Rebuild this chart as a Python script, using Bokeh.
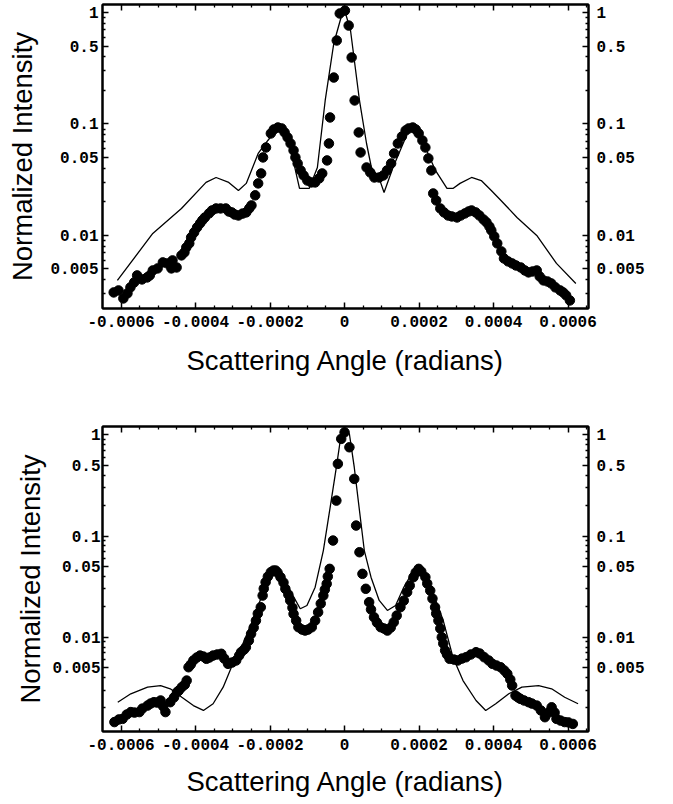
from bokeh.plotting import figure
from bokeh.models import Range1d, FixedTicker, LogAxis, LinearAxis, CustomJSTickFormatter
from bokeh.layouts import column
from bokeh.embed import file_html
from bokeh.resources import INLINE

# ---------------- data ----------------
top_dot_x = [-0.000620, -0.000594, -0.000575, -0.000557, -0.000530, -0.000515, -0.000488, -0.000462,
             -0.000451, -0.000438, -0.000425, -0.000412, -0.000396, -0.000382, -0.000364, -0.000345,
             -0.000319, -0.000303, -0.000285, -0.000264, -0.000250, -0.000240, -0.000232, -0.000224,
             -0.000219, -0.000211, -0.000198, -0.000179, -0.000161, -0.000145, -0.000132, -0.000118,
             -0.000100, -0.000079, -0.000060, -0.000047, -0.000042, -0.000039, -0.000029, -0.000021,
             -0.000013, 0.000001, 0.000011, 0.000019, 0.000027, 0.000038, 0.000043, 0.000059,
             0.000080, 0.000104, 0.000125, 0.000143, 0.000164, 0.000183, 0.000199, 0.000217,
             0.000233, 0.000238, 0.000257, 0.000278, 0.000302, 0.000323, 0.000341, 0.000362,
             0.000381, 0.000394, 0.000410, 0.000428, 0.000450, 0.000473, 0.000494, 0.000516,
             0.000534, 0.000555, 0.000579, 0.000595, 0.000605,
             -0.000607, -0.000583, -0.000565, -0.000544, -0.000523, -0.000502, -0.000476, -0.000465,
             -0.000430, -0.000417, -0.000404, -0.000388, -0.000375, -0.000356, -0.000333, -0.000311,
             -0.000295, -0.000274, -0.000256,
             0.000267, 0.000288, 0.000312, 0.000333, 0.000352, 0.000373, 0.000389, 0.000402,
             0.000421, 0.000439, 0.000460, 0.000484, 0.000505, 0.000524, 0.000545, 0.000566, 0.000587,
             -0.000190, -0.000169, -0.000153, -0.000137, -0.000126, -0.000110, -0.000089, -0.000068,
             0.000154, 0.000172, 0.000191, 0.000209, 0.000225, 0.000093, 0.000114, 0.000133,
             0.000069, 0.000246]
top_dot_y = [0.00308, 0.00272, 0.00342, 0.00438, 0.00420, 0.00485, 0.00573, 0.00597,
             0.00516, 0.00662, 0.00780, 0.00960, 0.0118, 0.01365, 0.01575, 0.01746,
             0.01746, 0.0161, 0.0151, 0.0161, 0.0186, 0.0229, 0.0293, 0.0360,
             0.0501, 0.0615, 0.0822, 0.0930, 0.0839, 0.0668, 0.0501, 0.0383,
             0.0311, 0.0299, 0.0360, 0.0471, 0.0668, 0.1144, 0.261, 0.561,
             0.98, 1.04, 0.764, 0.395, 0.1625, 0.0839, 0.0555, 0.0407,
             0.0331, 0.0345, 0.0442, 0.0668, 0.0874, 0.0930, 0.0822, 0.0615,
             0.0383, 0.0238, 0.01746, 0.0151, 0.0145, 0.01575, 0.01675, 0.0151,
             0.0131, 0.0111, 0.00848, 0.00622, 0.00561, 0.00516, 0.00466, 0.00485,
             0.00395, 0.00371, 0.00321, 0.00290, 0.00261,
             0.00321, 0.00302, 0.00379, 0.00403, 0.00438, 0.00506, 0.00561, 0.00506,
             0.00704, 0.00848, 0.01064, 0.01282, 0.01450, 0.01675, 0.01746, 0.0164,
             0.0154, 0.0157, 0.01746,
             0.0161, 0.0148, 0.0151, 0.0164, 0.0161, 0.0139, 0.0120, 0.0098,
             0.00719, 0.00585, 0.00538, 0.00485, 0.00475, 0.00428, 0.00386, 0.00342, 0.00308,
             0.0893, 0.0912, 0.0757, 0.0579, 0.0442, 0.0345, 0.0299, 0.0325,
             0.0772, 0.0912, 0.0893, 0.0711, 0.0491, 0.0331, 0.0383, 0.0544,
             0.0367, 0.0206]

top_fit_x = [-0.000610, -0.000515, -0.000438, -0.000372, -0.000345, -0.000311, -0.000285, -0.000264,
             -0.000232, -0.000206, -0.000179, -0.000150, -0.000121, -0.000095, -0.000073, -0.000052,
             -0.000029, -0.000002, 0.000016, 0.000040, 0.000059, 0.000072, 0.000093, 0.000106,
             0.000130, 0.000172, 0.000185, 0.000217, 0.000244, 0.000275, 0.000291, 0.000310,
             0.000341, 0.000367, 0.000394, 0.000420, 0.000463, 0.000516, 0.000569, 0.000621]
top_fit_y = [0.00395, 0.01042, 0.01746, 0.0299, 0.0331, 0.0299, 0.0253, 0.0293,
             0.0544, 0.0711, 0.0930, 0.0711, 0.0264, 0.0264, 0.0407, 0.1625,
             0.527, 1.11, 0.690, 0.1625, 0.0668, 0.0407, 0.0325, 0.0243,
             0.0407, 0.0874, 0.0912, 0.0615, 0.0383, 0.0264, 0.0264, 0.0293,
             0.0331, 0.0311, 0.0253, 0.0206, 0.0145, 0.0100, 0.00561, 0.00371]

bot_dot_x = [-0.000618, -0.000596, -0.000574, -0.000551, -0.000529, -0.000512, -0.000494, -0.000481,
             -0.000468, -0.000450, -0.000437, -0.000424, -0.000419, -0.000406, -0.000388, -0.000371,
             -0.000353, -0.000331, -0.000313, -0.000291, -0.000278, -0.000265, -0.000251, -0.000238,
             -0.000225, -0.000220, -0.000212, -0.000198, -0.000185, -0.000172, -0.000159, -0.000146,
             -0.000137, -0.000124, -0.000106, -0.000088, -0.000071, -0.000057, -0.000048, -0.000040,
             -0.000031, -0.000022, -0.000018, -0.000009, 0.000000, 0.000013, 0.000026, 0.000031,
             0.000040, 0.000048, 0.000057, 0.000066, 0.000079, 0.000097, 0.000115, 0.000132,
             0.000150, 0.000168, 0.000185, 0.000199, 0.000217, 0.000230, 0.000243, 0.000252,
             0.000261, 0.000270, 0.000282, 0.000304, 0.000326, 0.000353, 0.000375, 0.000397,
             0.000419, 0.000437, 0.000450, 0.000459, 0.000472, 0.000494, 0.000516, 0.000538,
             0.000556, 0.000569, 0.000591, 0.000613,
             -0.000606, -0.000585, -0.000564, -0.000543, -0.000521, -0.000503, -0.000487, -0.000458,
             -0.000445, -0.000429, -0.000413, -0.000397, -0.000379, -0.000363, -0.000342, -0.000323,
             -0.000302, -0.000283, -0.000270, -0.000257, -0.000244, -0.000233, -0.000217, -0.000206,
             -0.000191, -0.000180, -0.000164, -0.000151, -0.000140, -0.000130, -0.000114, -0.000098,
             -0.000079, -0.000064, -0.000053, -0.000045,
             0.000071, 0.000087, 0.000106, 0.000124, 0.000140, 0.000159, 0.000175, 0.000191,
             0.000206, 0.000222, 0.000236, 0.000246, 0.000257, 0.000265, 0.000275, 0.000294,
             0.000315, 0.000339, 0.000363, 0.000387, 0.000408, 0.000429, 0.000445, 0.000466,
             0.000482, 0.000503, 0.000527, 0.000548, 0.000564, 0.000580, 0.000601]
bot_dot_y = [0.00145, 0.00156, 0.00182, 0.00182, 0.00211, 0.00228, 0.00237, 0.00182,
             0.00228, 0.00286, 0.00321, 0.00373, 0.00505, 0.00589, 0.00659, 0.00612,
             0.00659, 0.00686, 0.00546, 0.00589, 0.00711, 0.00796, 0.0108, 0.0146,
             0.0198, 0.0258, 0.0350, 0.0439, 0.0456, 0.0392, 0.0301, 0.0231,
             0.0170, 0.01256, 0.01164, 0.01256, 0.01767, 0.0258, 0.0337, 0.0474,
             0.0903, 0.224, 0.517, 0.913, 1.06, 0.754, 0.367, 0.127,
             0.0692, 0.0423, 0.0301, 0.0222, 0.01578, 0.01256, 0.01164, 0.01406,
             0.0198, 0.0279, 0.0392, 0.0474, 0.0392, 0.0289, 0.0198, 0.0146,
             0.0100, 0.00739, 0.00612, 0.00589, 0.00634, 0.00711, 0.00634, 0.00546,
             0.00505, 0.00435, 0.00333, 0.00265, 0.00246, 0.00228, 0.00211, 0.00162,
             0.00203, 0.00156, 0.00145, 0.00139,
             0.00154, 0.00172, 0.00180, 0.00197, 0.00221, 0.00226, 0.00207, 0.00254,
             0.00297, 0.00340, 0.00537, 0.00630, 0.00644, 0.00630, 0.00675, 0.00615,
             0.00562, 0.00659, 0.00755, 0.00927, 0.01245, 0.0171, 0.0302, 0.0397,
             0.0456, 0.0436, 0.0347, 0.0264, 0.0196, 0.0146, 0.0119, 0.0119,
             0.0146, 0.0215, 0.0296, 0.0398,
             0.0188, 0.01397, 0.01219, 0.01247, 0.01637, 0.0230, 0.0324, 0.0436,
             0.0446, 0.0339, 0.0241, 0.01714, 0.01219, 0.00867, 0.00675, 0.00601,
             0.00615, 0.00675, 0.00690, 0.00589, 0.00525, 0.00469, 0.00382, 0.00254,
             0.00237, 0.00221, 0.00189, 0.00180, 0.00180, 0.00150, 0.00144]

bot_fit_x = [-0.000609, -0.000574, -0.000529, -0.000494, -0.000468, -0.000437, -0.000406, -0.000379,
             -0.000353, -0.000326, -0.000300, -0.000273, -0.000247, -0.000220, -0.000198, -0.000185,
             -0.000168, -0.000146, -0.000119, -0.000101, -0.000079, -0.000057, -0.000040, -0.000022,
             -0.000009, 0.000000, 0.000013, 0.000026, 0.000040, 0.000053, 0.000071, 0.000093,
             0.000115, 0.000137, 0.000159, 0.000185, 0.000203, 0.000221, 0.000238, 0.000265,
             0.000291, 0.000318, 0.000353, 0.000379, 0.000406, 0.000441, 0.000476, 0.000521,
             0.000556, 0.000591, 0.000627]
bot_fit_y = [0.00228, 0.00276, 0.00321, 0.00333, 0.00309, 0.00255, 0.00211, 0.00189,
             0.00220, 0.00321, 0.00546, 0.00861, 0.0146, 0.0269, 0.0423, 0.0474,
             0.0423, 0.0289, 0.0191, 0.0206, 0.0312, 0.0719, 0.179, 0.479,
             1.02, 1.15, 1.02, 0.479, 0.179, 0.0719, 0.0392, 0.0231,
             0.0184, 0.0206, 0.0312, 0.0456, 0.0492, 0.0392, 0.0269, 0.0146,
             0.00634, 0.00373, 0.00237, 0.00189, 0.00220, 0.00276, 0.00321, 0.00333,
             0.00309, 0.00255, 0.00220]

x_ticks = [-0.0006, -0.0004, -0.0002, 0.0, 0.0002, 0.0004, 0.0006]
x_tick_labels = ["-0.0006", "-0.0004", "-0.0002", "0", "0.0002", "0.0004", "0.0006"]
x_minor_ticks = [k * 0.00005 for k in range(-13, 14) if k % 4 != 0]

y_ticks = [0.005, 0.01, 0.05, 0.1, 0.5, 1.0]
y_tick_labels = ["0.005", "0.01", "0.05", "0.1", "0.5", "1"]
y_minor_ticks = [m * 10.0 ** e for e in (-3, -2, -1) for m in (2, 3, 4, 6, 7, 8, 9)]

x_label = "Scattering Angle (radians)"
y_label = "Normalized Intensity"

FMT_CODE = """
for (let i = 0; i < t.length; i++) {
  if (Math.abs(tick - t[i]) <= 1e-9 * Math.max(Math.abs(t[i]), 1e-12)) { return l[i]; }
}
return "";
"""


def fmt(ticks, labels):
    return CustomJSTickFormatter(args=dict(t=ticks, l=labels), code=FMT_CODE)


def style(ax, ticker, formatter, standoff, show=True):
    ax.ticker = ticker
    ax.formatter = formatter
    ax.axis_line_color = "black"
    ax.axis_line_width = 2
    ax.major_tick_in = 6
    ax.major_tick_out = 0
    ax.minor_tick_in = 3
    ax.minor_tick_out = 0
    ax.major_tick_line_color = "black"
    ax.minor_tick_line_color = "black"
    ax.major_tick_line_width = 1.5
    ax.minor_tick_line_width = 1.3
    ax.major_label_text_font = "Liberation Mono"
    ax.major_label_text_font_style = "bold"
    ax.major_label_text_color = "black"
    ax.major_label_standoff = standoff
    ax.major_label_text_font_size = "16px" if show else "0px"


def make(dx, dy, fx, fy, ymin, ymax, height, mb, ystand, xstand, ylab_stand, xlab_stand):
    p = figure(width=670, height=height, output_backend="svg", toolbar_location=None,
               y_axis_type="log",
               x_range=Range1d(-0.00065, 0.000655), y_range=Range1d(ymin, ymax),
               min_border_left=mb[0], min_border_right=mb[1],
               min_border_top=mb[2], min_border_bottom=mb[3])
    p.xgrid.visible = False
    p.ygrid.visible = False
    p.outline_line_color = "black"
    p.outline_line_width = 2
    p.background_fill_color = "white"
    p.border_fill_color = "white"

    xt = FixedTicker(ticks=x_ticks, minor_ticks=x_minor_ticks)
    yt = FixedTicker(ticks=y_ticks, minor_ticks=y_minor_ticks)

    bx = p.below[0]
    style(bx, xt, fmt(x_ticks, x_tick_labels), xstand)
    bx.axis_label = x_label
    ly = p.left[0]
    style(ly, yt, fmt(y_ticks, y_tick_labels), ystand)
    ly.axis_label = y_label
    for ax in (bx, ly):
        ax.axis_label_text_font = "Liberation Sans"
        ax.axis_label_text_font_size = "27.5px"
        ax.axis_label_text_font_style = "normal"
        ax.axis_label_text_color = "black"
    bx.axis_label_standoff = xlab_stand
    ly.axis_label_standoff = ylab_stand

    ry = LogAxis()
    style(ry, yt, fmt(y_ticks, y_tick_labels), 8)
    p.add_layout(ry, "right")
    tx = LinearAxis()
    style(tx, xt, fmt([], []), 0, show=False)
    p.add_layout(tx, "above")

    p.line(fx, fy, line_color="black", line_width=1.3)
    p.scatter(dx, dy, size=9.5, fill_color="black", line_color="black")
    return p


p1 = make(top_dot_x, top_dot_y, top_fit_x, top_fit_y, 0.00221, 1.18, 410,
          (102, 74, 4, 102), 4, 7, 9, 15)
p2 = make(bot_dot_x, bot_dot_y, bot_fit_x, bot_fit_y, 0.00117, 1.21, 393,
          (95, 82, 16, 72), 2, 7, 3, 13)

layout = column(p1, p2)
open("out.html", "w").write(file_html(layout, INLINE))
